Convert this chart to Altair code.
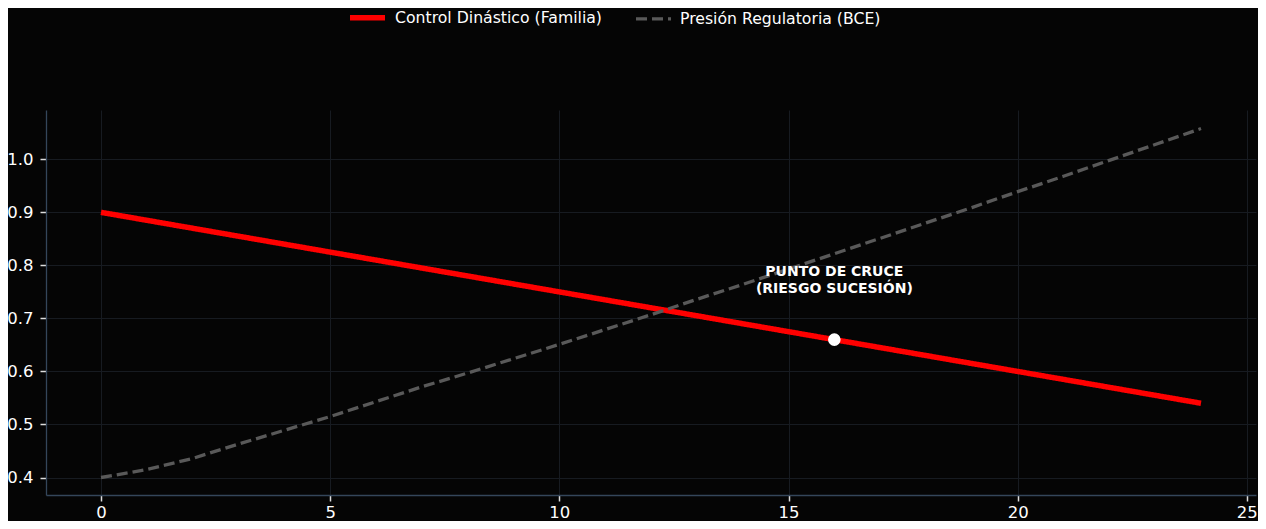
import altair as alt
import pandas as pd

# Data
x_vals = list(range(0, 25))
control = [0.900, 0.885, 0.870, 0.855, 0.840, 0.825, 0.810, 0.795, 0.780, 0.765,
           0.750, 0.735, 0.720, 0.705, 0.690, 0.675, 0.660, 0.645, 0.630, 0.615,
           0.600, 0.585, 0.570, 0.555, 0.540]
presion = [0.400, 0.415, 0.436, 0.463, 0.489, 0.515, 0.543, 0.571, 0.597, 0.624,
           0.651, 0.679, 0.707, 0.736, 0.764, 0.793, 0.822, 0.851, 0.880, 0.909,
           0.939, 0.968, 0.998, 1.028, 1.058]
series_names = ["Control Dinástico (Familia)", "Presión Regulatoria (BCE)"]
cross_x = [16]
cross_y = [0.66]
note_x = [16]
note_y = [0.788]
note_text = ["PUNTO DE CRUCE\n(RIESGO SUCESIÓN)"]
x_ticks = [0, 5, 10, 15, 20, 25]
y_ticks = [0.4, 0.5, 0.6, 0.7, 0.8, 0.9, 1.0]

rows = []
for xi, v in zip(x_vals, control):
    rows.append({"x": xi, "y": v, "serie": series_names[0]})
for xi, v in zip(x_vals, presion):
    rows.append({"x": xi, "y": v, "serie": series_names[1]})
df = pd.DataFrame(rows)

xscale = alt.Scale(domain=[-1.2, 25.2], nice=False, zero=False)
yscale = alt.Scale(domain=[0.367, 1.093], nice=False, zero=False)

common_axis = dict(title=None, labelColor="#ffffff", labelFontSize=16.5,
                   tickColor="#dddddd", tickSize=6, tickWidth=1.5,
                   domainColor="#34465a", domainWidth=1.3, gridColor="#171b21",
                   gridWidth=1, labelFont="DejaVu Sans")
xaxis = alt.Axis(values=x_ticks, labelPadding=3, **common_axis)
yaxis = alt.Axis(values=y_ticks, format=".1f", labelPadding=7, **common_axis)

lines = alt.Chart(df).mark_line().encode(
    x=alt.X("x:Q", scale=xscale, axis=xaxis),
    y=alt.Y("y:Q", scale=yscale, axis=yaxis),
    color=alt.Color("serie:N", title=None,
                    scale=alt.Scale(domain=series_names, range=["#ff0000", "#595959"]),
                    legend=alt.Legend(orient="none", direction="horizontal",
                                      legendX=301, legendY=-113, symbolType="stroke",
                                      symbolSize=1225, labelFontSize=15.7,
                                      labelColor="#ffffff", labelOffset=7,
                                      labelLimit=500, columnPadding=27,
                                      labelFont="DejaVu Sans")),
    strokeDash=alt.StrokeDash("serie:N", title=None,
                              scale=alt.Scale(domain=series_names, range=[[1, 0], [11, 5]])),
    strokeWidth=alt.StrokeWidth("serie:N", title=None,
                                scale=alt.Scale(domain=series_names, range=[5.5, 3.3])),
)

pt = alt.Chart(pd.DataFrame({"x": cross_x, "y": cross_y})).mark_point(
    filled=True, shape="circle", size=160, color="#ffffff", opacity=1
).encode(x=alt.X("x:Q", scale=xscale), y=alt.Y("y:Q", scale=yscale))

note = alt.Chart(pd.DataFrame({"x": note_x, "y": note_y, "t": note_text})).mark_text(
    color="#ffffff", fontSize=14, fontWeight="bold", align="center", baseline="middle",
    lineBreak="\n", lineHeight=17, font="DejaVu Sans"
).encode(x=alt.X("x:Q", scale=xscale), y=alt.Y("y:Q", scale=yscale), text="t:N")

chart = alt.layer(lines, pt, note).properties(
    width=1210, height=385,
    background="#050505",
    padding={"left": 38, "top": 102, "right": 2, "bottom": 26},
    autosize=alt.AutoSizeParams(type="none"),
).configure_view(stroke=None, fill="#050505")

chart.save("out.html", embed_options={"renderer": "svg", "actions": False})
